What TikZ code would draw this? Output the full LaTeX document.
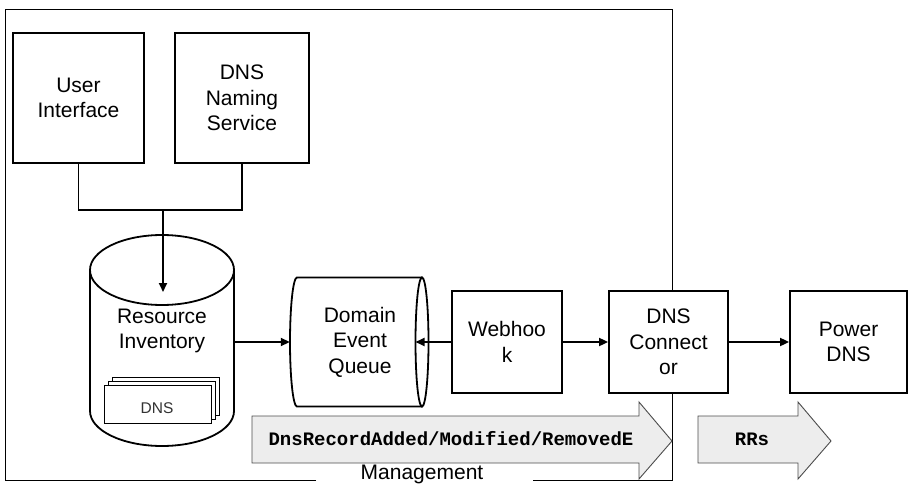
\documentclass[tikz,border=0pt]{standalone}
\usepackage{fontspec}
\setmainfont{Liberation Sans}
\setmonofont{Liberation Mono}
\usetikzlibrary{arrows.meta}
\begin{document}
\begin{tikzpicture}[x=1pt,y=-1pt,
  lbl/.style={font=\fontsize{21}{25.5}\selectfont, align=center, inner sep=0pt},
  box/.style={draw, line width=1.8pt, fill=white, align=center, inner sep=0pt,
    font=\fontsize{21}{25.5}\selectfont},
  conn/.style={line width=1.8pt},
  arr/.style={line width=1.8pt, -{Triangle[length=9pt,width=8pt]}},
  doc/.style={draw, line width=1pt, fill=white, minimum width=107pt, minimum height=38pt, inner sep=0pt},
  blockarrow/.style={draw=black!70, line width=0.9pt, fill=black!7},
  mono/.style={font=\fontsize{19}{22}\selectfont\ttfamily\bfseries, inner sep=0pt, anchor=base}
]
\useasboundingbox (0,0) rectangle (917,497);

% outer frame with gap for label
\draw[line width=1pt] (316,480) -- (5,480) -- (5,10) -- (672,10) -- (672,480) -- (533,480);
\node[lbl, anchor=base] (mgmt) at (422,479) {Management};

% top boxes
\node[box, minimum width=131pt, minimum height=130pt] (ui) at (78.5,98) {User\\Interface};
\node[box, minimum width=134pt, minimum height=130pt] (dnsn) at (242,98) {DNS\\Naming\\Service};

% Resource inventory cylinder
\draw[line width=1.8pt, fill=white] (90,270) -- (90,411)
  arc[start angle=180, end angle=360, x radius=72pt, y radius=35pt] -- (234,270);
\draw[line width=1.8pt, fill=white] (162,270) ellipse [x radius=72pt, y radius=35pt];
\node[inner sep=0pt, minimum width=144pt, minimum height=211pt] (ri) at (162,340.5) {};
\node[lbl] (ritxt) at (162,331) {Resource\\Inventory};
\coordinate (ritop) at (163,292);

% stacked DNS docs
\node[doc] (doc3) at (165.5,396) {};
\node[doc] (doc2) at (161.5,400) {};
\node[doc] (doc1) at (157.5,404) {};
\node[font=\fontsize{15.5}{18}\selectfont, text=black!80, anchor=base, inner sep=0pt] (dnstxt) at (157,413) {DNS};

% connectors from top boxes
\coordinate (j) at (163,210);
\draw[conn] (ui.south) |- (j) -| (dnsn.south);
\draw[arr] (j) -- (ritop);

% Domain event queue (horizontal cylinder)
\draw[line width=1.8pt, fill=white] (422,277.5) -- (297,277.5)
  arc[start angle=90, end angle=270, x radius=7pt, y radius=64.5pt] -- (422,406.5);
\draw[line width=1.8pt, fill=white] (422,342) ellipse [x radius=6.5pt, y radius=64.5pt];
\node[inner sep=0pt, minimum width=138.5pt, minimum height=129pt] (dq) at (359.25,342) {};
\node[lbl] (dqtxt) at (360,342) {Domain\\Event\\Queue};
\coordinate (dqin) at (415.5,342);

% other boxes
\node[box, minimum width=110pt, minimum height=102pt] (wh) at (507,342) {Webhoo\\k};
\node[box, minimum width=119pt, minimum height=102pt] (dc) at (668.5,342) {DNS\\Connect\\or};
\node[box, minimum width=117pt, minimum height=102pt] (pd) at (848.5,342) {Power\\DNS};

% horizontal arrows
\draw[arr] (ri.east |- dq.west) -- (dq.west);
\draw[arr] (wh.west) -- (dqin);
\draw[arr] (wh.east) -- (dc.west);
\draw[arr] (dc.east) -- (pd.west);

% block arrows
\draw[blockarrow] (252,416) -- (639,416) -- (639,402) -- (672,441) -- (639,479) -- (639,463) -- (252,463) -- cycle;
\node[mono] (ev) at (451,445) {DnsRecordAdded/Modified/RemovedE};
\draw[blockarrow] (698,416) -- (798,416) -- (798,402) -- (831,441) -- (798,479) -- (798,463) -- (698,463) -- cycle;
\node[mono] (rrs) at (752,445) {RRs};
\end{tikzpicture}
\end{document}
